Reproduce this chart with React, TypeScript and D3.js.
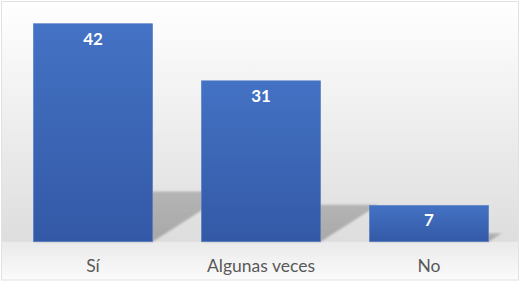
import React, { useEffect, useRef } from 'react';
import * as d3 from 'd3';

const categories = ['Sí', 'Algunas veces', 'No'];
const values = [42, 31, 7];

const App: React.FC = () => {
  const svgRef = useRef<SVGSVGElement>(null);

  useEffect(() => {
    if (!svgRef.current) return;
    const svg = d3.select(svgRef.current);
    svg.selectAll('*').remove();

    const baseline = 241.7;
    const font = 'Lato, "Open Sans", sans-serif';

    const x = d3.scaleBand<string>().domain(categories).range([9, 513]).paddingInner(0.29).paddingOuter(0.145);
    const y = d3.scaleLinear().domain([0, 42]).range([baseline, 23.7]);

    const defs = svg.append('defs');

    const bg = defs.append('linearGradient').attr('id', 'bg').attr('x1', 0).attr('y1', 0).attr('x2', 0).attr('y2', 1);
    bg.append('stop').attr('offset', '0%').attr('stop-color', '#ffffff');
    bg.append('stop').attr('offset', '100%').attr('stop-color', '#d8d8d8');

    const floor = defs.append('linearGradient').attr('id', 'floor').attr('x1', 0).attr('y1', 0).attr('x2', 0).attr('y2', 1);
    floor.append('stop').attr('offset', '0%').attr('stop-color', '#eaeaea');
    floor.append('stop').attr('offset', '100%').attr('stop-color', '#fbfbfb');

    const barGrad = defs.append('linearGradient').attr('id', 'bar').attr('x1', 0).attr('y1', 0).attr('x2', 0).attr('y2', 1);
    barGrad.append('stop').attr('offset', '0%').attr('stop-color', '#4472c4');
    barGrad.append('stop').attr('offset', '100%').attr('stop-color', '#3359a6');

    const shadowGrad = defs.append('linearGradient').attr('id', 'shadow').attr('x1', 0).attr('y1', 1).attr('x2', 0).attr('y2', 0);
    shadowGrad.append('stop').attr('offset', '0%').attr('stop-color', '#a8a8a8');
    shadowGrad.append('stop').attr('offset', '100%').attr('stop-color', '#b4b4b4');

    defs.append('filter').attr('id', 'blur')
      .append('feGaussianBlur').attr('stdDeviation', 0.8);

    // background + border
    svg.append('rect')
      .attr('x', 1.5).attr('y', 1.5).attr('width', 517).attr('height', 278.5)
      .attr('fill', 'url(#bg)');
    svg.append('rect')
      .attr('x', 2).attr('y', baseline).attr('width', 516).attr('height', 280 - baseline)
      .attr('fill', 'url(#floor)');
    svg.append('rect')
      .attr('x', 1.5).attr('y', 1.5).attr('width', 517).attr('height', 278.5)
      .attr('fill', 'none').attr('stroke', '#e2e2e2').attr('stroke-width', 1);

    const bw = x.bandwidth();

    // perspective shadows
    svg.append('g').selectAll('path')
      .data(values)
      .join('path')
      .attr('d', (d, i) => {
        const x0 = x(categories[i])!;
        const h = baseline - y(d);
        const dy = h * 0.23;
        const dx = h * 0.36;
        return `M${x0},${baseline}L${x0 + bw},${baseline}L${x0 + bw + dx},${baseline - dy}L${x0 + dx},${baseline - dy}Z`;
      })
      .attr('fill', 'url(#shadow)')
      .attr('filter', 'url(#blur)');

    // bars
    svg.append('g').selectAll('rect')
      .data(values)
      .join('rect')
      .attr('x', (d, i) => x(categories[i])!)
      .attr('y', d => y(d))
      .attr('width', bw)
      .attr('height', d => baseline - y(d))
      .attr('fill', 'url(#bar)')
      .attr('stroke', '#5b83c9')
      .attr('stroke-width', 0.6);

    // value labels
    svg.append('g').selectAll('text')
      .data(values)
      .join('text')
      .attr('x', (d, i) => x(categories[i])! + bw / 2)
      .attr('y', d => y(d) + 20.8)
      .attr('text-anchor', 'middle')
      .attr('fill', '#ffffff')
      .attr('font-family', font)
      .attr('font-weight', 'bold')
      .attr('font-size', 17)
      .text(d => d);

    // category axis labels
    svg.append('g').selectAll('text')
      .data(categories)
      .join('text')
      .attr('x', d => x(d)! + bw / 2)
      .attr('y', 271.7)
      .attr('text-anchor', 'middle')
      .attr('fill', '#595959')
      .attr('font-family', font)
      .attr('font-size', 17.5)
      .text(d => d);
  }, []);

  return (
    <div style={{ position: 'fixed', left: 0, top: 0, width: 521, height: 283 }}>
      <svg ref={svgRef} width={521} height={283} style={{ display: 'block' }}></svg>
    </div>
  );
};

export default App;
